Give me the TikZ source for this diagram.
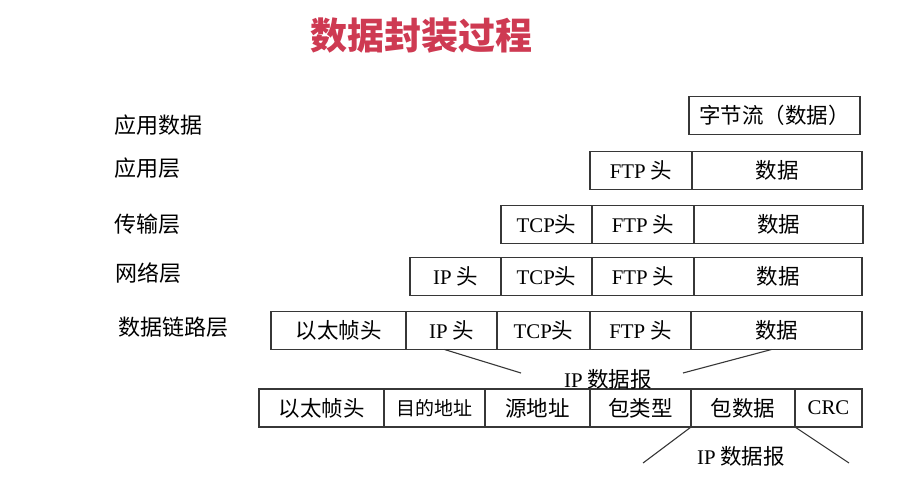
\documentclass[tikz,border=0pt]{standalone}
\usepackage{fontspec}
\setmainfont{Noto Sans CJK SC}
\newfontfamily\lat[Scale=0.97]{Liberation Serif}
\usetikzlibrary{positioning}
\definecolor{titlered}{RGB}{206,58,82}
\definecolor{boxline}{RGB}{55,55,55}

\begin{document}
\begin{tikzpicture}[x=1pt,y=-1pt,
	cell/.style={draw=boxline,line width=1.3pt,rectangle,inner sep=0pt,outer sep=0pt,minimum height=38pt,font=\fontsize{21.5}{21.5}\selectfont},
	layer/.style={anchor=west,inner sep=0pt,font=\fontsize{22}{22}\selectfont},
	wire/.style={draw=boxline,line width=1.1pt}]
	\useasboundingbox (0,0) rectangle (914,479);

	\node[font=\fontsize{37}{37}\selectfont\bfseries,text=titlered] (title) at (421,36) {数据封装过程};

	% layer names
	\node[layer] (appdata) at (114,125) {应用数据};
	\node[layer] (app) at (114,168) {应用层};
	\node[layer] (trans) at (114,224) {传输层};
	\node[layer] (net) at (115,273) {网络层};
	\node[layer] (link) at (118,327) {数据链路层};

	\node[cell,minimum width=171pt] (stream) at (774.5,115.5) {字节流（数据）};

	\node[cell,minimum width=102pt,anchor=west] (ftp1) at (590,170.5) {{\lat FTP} 头};
	\node[cell,minimum width=170pt,right=0pt of ftp1] (dat1) {数据};

	\node[cell,minimum width=91pt,anchor=west] (tcp2) at (501,224.5) {{\lat TCP}头};
	\node[cell,minimum width=102pt,right=0pt of tcp2] (ftp2) {{\lat FTP} 头};
	\node[cell,minimum width=169pt,right=0pt of ftp2] (dat2) {数据};

	\node[cell,minimum width=91pt,anchor=west] (ip3) at (410,276.5) {{\lat IP} 头};
	\node[cell,minimum width=91pt,right=0pt of ip3] (tcp3) {{\lat TCP}头};
	\node[cell,minimum width=102pt,right=0pt of tcp3] (ftp3) {{\lat FTP} 头};
	\node[cell,minimum width=168pt,right=0pt of ftp3] (dat3) {数据};

	\node[cell,minimum width=135pt,anchor=west] (eth4) at (271,330.5) {以太帧头};
	\node[cell,minimum width=91pt,right=0pt of eth4] (ip4) {{\lat IP} 头};
	\node[cell,minimum width=93pt,right=0pt of ip4] (tcp4) {{\lat TCP}头};
	\node[cell,minimum width=101pt,right=0pt of tcp4] (ftp4) {{\lat FTP} 头};
	\node[cell,minimum width=171pt,right=0pt of ftp4] (dat4) {数据};

	\node[cell,minimum width=125pt,anchor=west] (eth5) at (259,408) {以太帧头};
	\node[cell,minimum width=101pt,right=0pt of eth5,font=\fontsize{19}{19}\selectfont] (dst5) {目的地址};
	\node[cell,minimum width=105pt,right=0pt of dst5] (src5) {源地址};
	\node[cell,minimum width=101pt,right=0pt of src5] (type5) {包类型};
	\node[cell,minimum width=104pt,right=0pt of type5] (pay5) {包数据};
	\node[cell,minimum width=67pt,right=0pt of pay5] (crc5) {\lat CRC};

	% IP datagram braces
	\node[font=\fontsize{21.5}{21.5}\selectfont] (ipd1) at (608,379) {{\lat IP} 数据报};
	\coordinate (ipdL) at (521,373);
	\coordinate (ipdR) at (683,373);
	\draw[wire] ([xshift=-7pt]ip4.south) -- (ipdL);
	\draw[wire] ([xshift=-5pt]dat4.south) -- (ipdR);

	\node[font=\fontsize{21.5}{21.5}\selectfont] (ipd2) at (741,456) {{\lat IP} 数据报};
	\coordinate (ipdBL) at (643,463);
	\coordinate (ipdBR) at (849,463);
	\draw[wire] (pay5.south west) -- (ipdBL);
	\draw[wire] (crc5.south west) -- (ipdBR);
\end{tikzpicture}
\end{document}
